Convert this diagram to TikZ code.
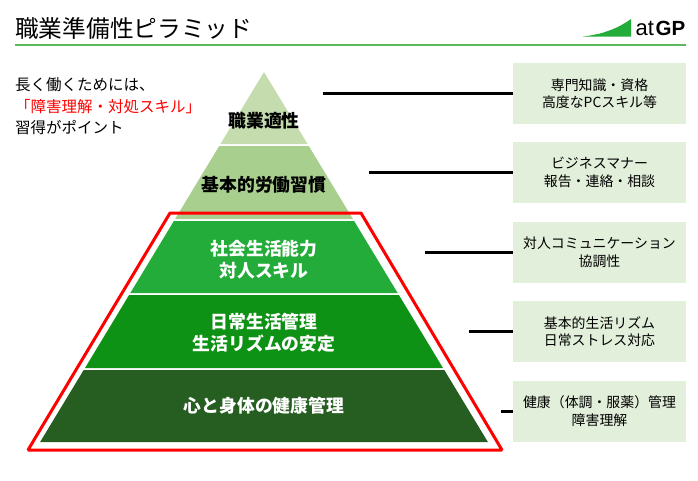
\documentclass[tikz,border=0pt]{standalone}
\usepackage{fontspec}
\setmainfont{Noto Sans CJK JP}
\newfontfamily\logofont{Liberation Sans}
\definecolor{ruleGreen}{HTML}{5CB85C}
\definecolor{layerA}{HTML}{C5DDAE}
\definecolor{layerB}{HTML}{A9CF8E}
\definecolor{layerC}{HTML}{23AC3A}
\definecolor{layerD}{HTML}{0E9215}
\definecolor{layerE}{HTML}{255E20}
\definecolor{boxGreen}{HTML}{E2EFDA}
\newcommand{\fsz}[2]{\fontsize{#1}{#2}\selectfont}

\begin{document}
\begin{tikzpicture}[x=1pt, y=-1pt,
  pyrlabel/.style={inner sep=0pt, align=center, font=\fsz{17.8}{22.5}\bfseries},
  notebox/.style={fill=boxGreen, minimum width=173pt, minimum height=61pt, inner sep=0pt,
    align=center, font=\fsz{13.9}{17.5}},
  leader/.style={line width=3pt},
  sidetext/.style={inner sep=0pt, anchor=west, font=\fsz{15.5}{15.5}}]
\useasboundingbox (0,0) rectangle (698,480);

% title
\node [inner sep=0pt, anchor=west, font=\fsz{23.7}{23.7}] (title) at (15,28) {職業準備性ピラミッド};
\draw [ruleGreen, line width=2pt] (15,44.5) -- (686,44.5);

% logo
\fill [layerC] (583,36.5) .. controls (605,34) and (620,27) .. (631,19) -- (631,36.5) -- cycle;
\node [inner sep=0pt, white, font=\fsz{3.5}{3.5}] (logosub) at (592,33.5) {アットジーピー};
\node [inner sep=0pt, anchor=base west, font=\logofont\fsz{22}{22}] (logoat) at (635.5,35.3) {at};
\node [inner sep=0pt, anchor=base west, font=\logofont\fsz{20.5}{20.5}\bfseries] (logogp) at (655.5,35.3) {GP};

% left text
\node [sidetext] (sideA) at (15,85) {長く働くためには、};
\node [sidetext, red] (sideB) at (15,106.5) {「障害理解・対処スキル」};
\node [sidetext] (sideC) at (15,128) {習得がポイント};

% pyramid
\fill [layerA] (264,72) -- (307.6,144) -- (220.4,144) -- cycle;
\fill [layerB] (219.2,146) -- (308.8,146) -- (352.9,219) -- (175.1,219) -- cycle;
\fill [layerC] (173.9,221) -- (354.1,221) -- (397.7,293) -- (130.3,293) -- cycle;
\fill [layerD] (129.1,295) -- (398.9,295) -- (443,368) -- (85,368) -- cycle;
\fill [layerE] (83.7,370) -- (444.3,370) -- (487.9,442) -- (40.1,442) -- cycle;

% red frame
\draw [red, line width=3pt, line join=bevel] (170,213) -- (361,213) -- (502,450) -- (28,450) -- cycle;

% layer labels
\node [pyrlabel] (lblA) at (264,121) {職業適性};
\node [pyrlabel] (lblB) at (264,185) {基本的労働習慣};
\node [pyrlabel, white] (lblC) at (264,259.5) {社会生活能力\\対人スキル};
\node [pyrlabel, white] (lblD) at (264,332.5) {日常生活管理\\生活リズムの安定};
\node [pyrlabel, white] (lblE) at (264,406) {心と身体の健康管理};

% notes
\node [notebox] (noteA) at (599.5,93.5) {専門知識・資格\\高度なPCスキル等};
\node [notebox] (noteB) at (599.5,172.5) {ビジネスマナー\\報告・連絡・相談};
\node [notebox] (noteC) at (599.5,252.5) {対人コミュニケーション\\協調性};
\node [notebox] (noteD) at (599.5,331.5) {基本的生活リズム\\日常ストレス対応};
\node [notebox] (noteE) at (599.5,411) {健康（体調・服薬）管理\\障害理解};

% leaders
\coordinate (tipA) at (323,93.5);
\coordinate (tipB) at (369,172.5);
\coordinate (tipC) at (425,252.5);
\coordinate (tipD) at (469,331.5);
\coordinate (tipE) at (501,411);
\foreach \n in {A,B,C,D,E}
  \draw [leader] (tip\n) -- (note\n.west);
\end{tikzpicture}
\end{document}
